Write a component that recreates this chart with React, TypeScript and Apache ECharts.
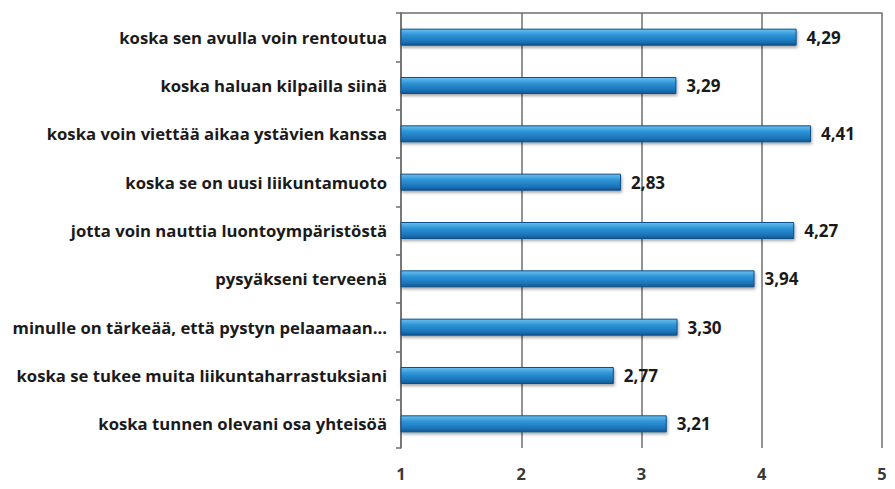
import React, { useEffect, useRef } from "react";
import * as echarts from "echarts";

const categories = [
  "koska sen avulla voin rentoutua",
  "koska haluan kilpailla siinä",
  "koska voin viettää aikaa ystävien kanssa",
  "koska se on uusi liikuntamuoto",
  "jotta voin nauttia luontoympäristöstä",
  "pysyäkseni terveenä",
  "minulle on tärkeää, että pystyn pelaamaan...",
  "koska se tukee muita liikuntaharrastuksiani",
  "koska tunnen olevani osa yhteisöä",
];
const values = [4.29, 3.29, 4.41, 2.83, 4.27, 3.94, 3.3, 2.77, 3.21];
const xTicks = [1, 2, 3, 4, 5];

export default function App() {
  const ref = useRef<HTMLDivElement>(null);
  useEffect(() => {
    if (!ref.current) return;
    const chart = echarts.init(ref.current, null, { renderer: "svg" });
    const font = "'Open Sans', Lato, sans-serif";
    chart.setOption({
      animation: false,
      backgroundColor: "#ffffff",
      grid: { left: 401, right: 13, top: 13, bottom: 41, containLabel: false },
      xAxis: [
        {
          type: "value",
          min: xTicks[0],
          max: xTicks[xTicks.length - 1],
          interval: 1,
          axisLine: { show: false },
          axisTick: { show: false },
          splitLine: { show: true, lineStyle: { color: "#6e6e6e", width: 1.5 } },
          axisLabel: {
            margin: 17,
            color: "#3a3a3a",
            fontFamily: font,
            fontWeight: "bold",
            fontSize: 16.5,
          },
        },
        {
          type: "value",
          position: "top",
          min: xTicks[0],
          max: xTicks[xTicks.length - 1],
          axisLine: { show: true, lineStyle: { color: "#6e6e6e", width: 1.5 } },
          axisTick: { show: false },
          axisLabel: { show: false },
          splitLine: { show: false },
        },
      ],
      yAxis: {
        type: "category",
        data: categories,
        inverse: true,
        axisLine: { show: true, lineStyle: { color: "#6e6e6e", width: 1.5 } },
        axisTick: { show: true, length: 5, lineStyle: { color: "#6e6e6e", width: 1.5 } },
        axisLabel: {
          margin: 14,
          color: "#1a1a1a",
          fontFamily: font,
          fontWeight: "bold",
          fontSize: 16.7,
        },
      },
      series: [
        {
          type: "bar",
          data: values,
          barWidth: 17,
          itemStyle: {
            color: new echarts.graphic.LinearGradient(0, 0, 0, 1, [
              { offset: 0, color: "#6cc0ef" },
              { offset: 0.35, color: "#2e95d8" },
              { offset: 0.8, color: "#1a72b6" },
              { offset: 1, color: "#0f5692" },
            ]),
            borderColor: "#0e4f86",
            borderWidth: 1,
            shadowColor: "rgba(0,0,0,0.35)",
            shadowBlur: 3,
            shadowOffsetX: 1,
            shadowOffsetY: 2,
          },
          label: {
            show: true,
            position: "right",
            distance: 10,
            color: "#1a1a1a",
            fontFamily: font,
            fontWeight: "bold",
            fontSize: 17,
            formatter: (p: any) => p.value.toFixed(2).replace(".", ","),
          },
        },
      ],
    });
    return () => chart.dispose();
  }, []);
  return <div ref={ref} style={{ width: 895, height: 489, marginLeft: -8, marginTop: -8 }} />;
}
